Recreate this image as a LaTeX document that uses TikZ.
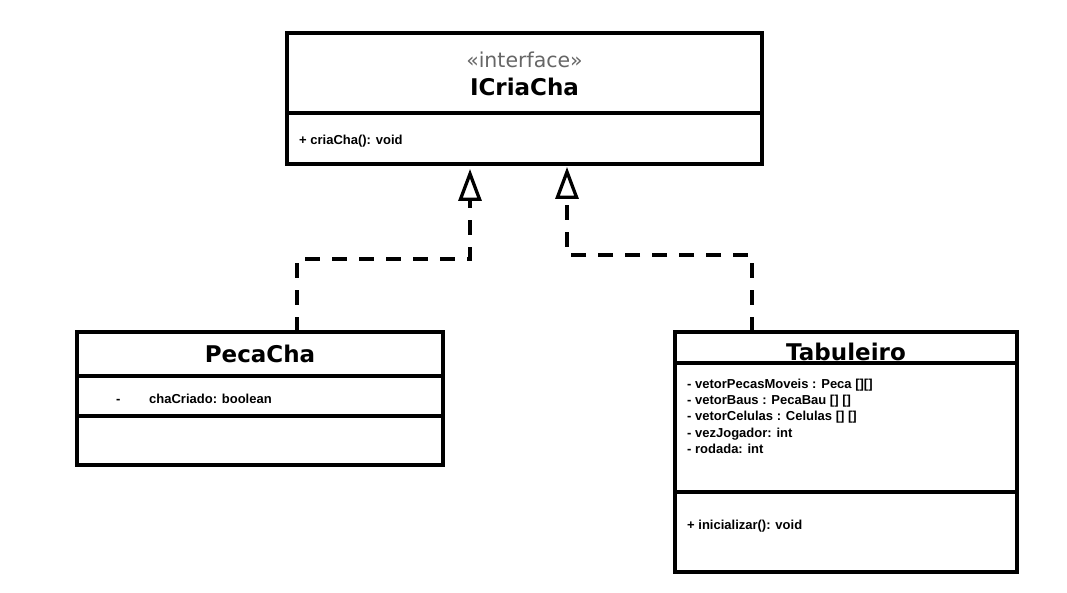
\documentclass[tikz,border=0pt]{standalone}
\usepackage{fontspec}
\setmainfont{Liberation Sans}
\newfontfamily\titlefont{DejaVu Sans}
\usetikzlibrary{arrows.meta, positioning}
\tikzset{
    compart/.style={rectangle, draw, line width=3.3pt, outer sep=0pt, inner sep=0pt},
    stereo/.style={font=\titlefont\fontsize{20.5}{24}\selectfont, text=black!60,
                   anchor=base, inner sep=0pt},
    classname/.style={font=\titlefont\bfseries\fontsize{23}{27}\selectfont,
                      anchor=base, inner sep=0pt},
    member/.style={font=\bfseries\fontsize{13}{16.3}\selectfont, align=left,
                   anchor=base west, inner sep=0pt},
    realize/.style={line width=3.3pt, dash pattern=on 15pt off 12pt,
                    -{Triangle[open, length=32pt, width=23pt]}},
}

\begin{document}
\begin{tikzpicture}[x=1pt, y=-1pt]
    \useasboundingbox (0,0) rectangle (1067,593);

    % ── Interface ──────────────────────────────────────────────────
    \node[compart, minimum width=475pt, minimum height=80pt] (ifaceHead) at (524.5, 73) {};
    \node[compart, minimum width=475pt, minimum height=51pt, below=0pt of ifaceHead] (ifaceOps) {};
    \node[stereo] (ifaceStereo) at (524.5, 68) {«interface»};
    \node[classname] (ifaceName) at (524.5, 96) {ICriaCha};
    \node[member] (ifaceOp) at (299, 145) {+ criaCha(): void};

    % ── PecaCha ────────────────────────────────────────────────────
    \node[compart, minimum width=366pt, minimum height=44pt] (pecaHead) at (260, 354) {};
    \node[compart, minimum width=366pt, minimum height=40pt, below=0pt of pecaHead] (pecaAttr) {};
    \node[compart, minimum width=366pt, minimum height=49pt, below=0pt of pecaAttr] (pecaOps) {};
    \node[classname] (pecaName) at (260, 362) {PecaCha};
    \node[member] (pecaDash) at (116, 403) {-};
    \node[member] (pecaField) at (149, 403) {chaCriado: boolean};

    % ── Tabuleiro ──────────────────────────────────────────────────
    \node[compart, minimum width=342pt, minimum height=31pt] (tabHead) at (846, 347.5) {};
    \node[compart, minimum width=342pt, minimum height=129pt, below=0pt of tabHead] (tabAttr) {};
    \node[compart, minimum width=342pt, minimum height=80pt, below=0pt of tabAttr] (tabOps) {};
    \node[classname] (tabName) at (846, 360) {Tabuleiro};
    % base anchor sits on the last line
    \node[member] (tabFields) at (687, 453.5) {- vetorPecasMoveis : Peca [][]\\
        - vetorBaus : PecaBau [] []\\
        - vetorCelulas : Celulas [] []\\
        - vezJogador: int\\
        - rodada: int};
    \node[member] (tabOp) at (687, 529) {+ inicializar(): void};

    % ── Realizations ───────────────────────────────────────────────
    \draw[realize] ([xshift=37pt]pecaHead.north) -- ++(0,-73)
        -| ([xshift=-54.5pt, yshift=-5pt]ifaceOps.south);
    \draw[realize] ([xshift=-94pt]tabHead.north) -- ++(0,-77)
        -| ([xshift=42.5pt, yshift=-3pt]ifaceOps.south);

\end{tikzpicture}
\end{document}
